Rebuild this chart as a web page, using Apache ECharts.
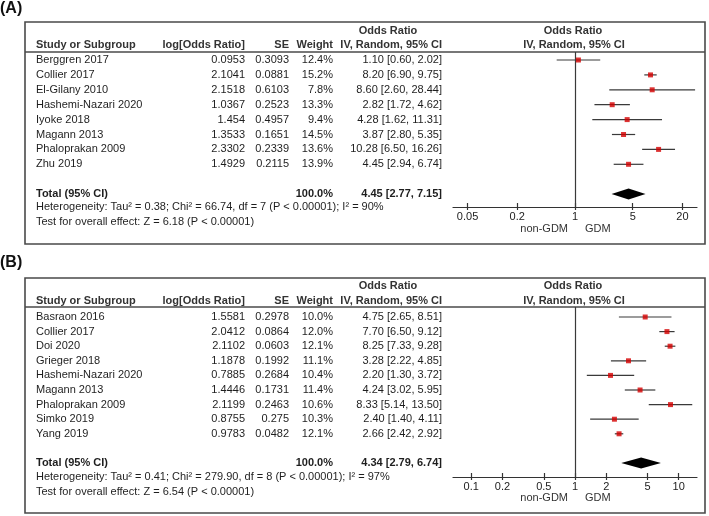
<!DOCTYPE html>
<html><head><meta charset="utf-8">
<script src="https://cdn.jsdelivr.net/npm/echarts@6/dist/echarts.min.js"></script>
<style>html,body{margin:0;padding:0;background:#fff}#c{width:709px;height:516px}</style>
</head><body><div id="c"></div>
<script>
// ---------- DATA : panel A ----------
const studiesA = ['Berggren 2017','Collier 2017','El-Gilany 2010','Hashemi-Nazari 2020','Iyoke 2018','Magann 2013','Phaloprakan 2009','Zhu 2019'];
const logOrA = ['0.0953','2.1041','2.1518','1.0367','1.454','1.3533','2.3302','1.4929'];
const seA = ['0.3093','0.0881','0.6103','0.2523','0.4957','0.1651','0.2339','0.2115'];
const weightA = [12.4,15.2,7.8,13.3,9.4,14.5,13.6,13.9];
const orA = [1.10,8.20,8.60,2.82,4.28,3.87,10.28,4.45];
const loA = [0.60,6.90,2.60,1.72,1.62,2.80,6.50,2.94];
const hiA = [2.02,9.75,28.44,4.62,11.31,5.35,16.26,6.74];
const totalA = [4.45,2.77,7.15];
const hetA = 'Heterogeneity: Tau\u00b2 = 0.38; Chi\u00b2 = 66.74, df = 7 (P < 0.00001); I\u00b2 = 90%';
const testA = 'Test for overall effect: Z = 6.18 (P < 0.00001)';
const ticksA = [0.05,0.2,1,5,20];
const ticksALabels = ['0.05','0.2','1','5','20'];

// ---------- DATA : panel B ----------
const studiesB = ['Basraon 2016','Collier 2017','Doi 2020','Grieger 2018','Hashemi-Nazari 2020','Magann 2013','Phaloprakan 2009','Simko 2019','Yang 2019'];
const logOrB = ['1.5581','2.0412','2.1102','1.1878','0.7885','1.4446','2.1199','0.8755','0.9783'];
const seB = ['0.2978','0.0864','0.0603','0.1992','0.2684','0.1731','0.2463','0.275','0.0482'];
const weightB = [10.0,12.0,12.1,11.1,10.4,11.4,10.6,10.3,12.1];
const orB = [4.75,7.70,8.25,3.28,2.20,4.24,8.33,2.40,2.66];
const loB = [2.65,6.50,7.33,2.22,1.30,3.02,5.14,1.40,2.42];
const hiB = [8.51,9.12,9.28,4.85,3.72,5.95,13.50,4.11,2.92];
const totalB = [4.34,2.79,6.74];
const hetB = 'Heterogeneity: Tau\u00b2 = 0.41; Chi\u00b2 = 279.90, df = 8 (P < 0.00001); I\u00b2 = 97%';
const testB = 'Test for overall effect: Z = 6.54 (P < 0.00001)';
const ticksB = [0.1,0.2,0.5,1,2,5,10];
const ticksBLabels = ['0.1','0.2','0.5','1','2','5','10'];

// ---------- LAYOUT ----------
const FONT = '"Liberation Sans", Arial, sans-serif';
const PLOT_L = 453, PLOT_R = 697;
const layA = {label:'(A)', labelY:9, boxTop:22, boxBottom:244, headLine:52, h1Y:31, h2Y:45, row0:60, step:14.9, totalIdx:9, hetY:207, testY:222, axisY:207, gdmY:229, xr:30};
const layB = {label:'(B)', labelY:263, boxTop:278, boxBottom:513, headLine:307, h1Y:286, h2Y:301, row0:317, step:14.6, totalIdx:10, hetY:477, testY:492, axisY:477, gdmY:498, xr:15};

const option = {animation:false, backgroundColor:'#fff', grid:[], xAxis:[], yAxis:[], series:[], graphic:{elements:[]}};
const G = option.graphic.elements;

function txt(s, x, y, align, bold, size, color){
  G.push({type:'text', silent:true, style:{text:s, x:x, y:y, align:align||'left', textAlign:align||'left', verticalAlign:'middle', textVerticalAlign:'middle', font:(bold?'bold ':'')+(size||11)+'px '+FONT, fill:color||'#1e1e1e'}});
}

function panel(idx, L, studies, logOr, se, weight, or, lo, hi, total, het, test, ticks, tickLabels){
  const rowY = i => L.row0 + i*L.step;
  // frame
  G.push({type:'rect', silent:true, shape:{x:25, y:L.boxTop, width:680, height:L.boxBottom-L.boxTop}, style:{fill:'none', stroke:'#4a4a4a', lineWidth:1.6}});
  G.push({type:'line', silent:true, shape:{x1:25, y1:L.headLine, x2:705, y2:L.headLine}, style:{stroke:'#4a4a4a', lineWidth:1.4}});
  txt(L.label, 0, L.labelY, 'left', true, 16, '#111');
  // header
  txt('Odds Ratio', 388, L.h1Y, 'center', true, 11, '#333');
  txt('Odds Ratio', 573, L.h1Y, 'center', true, 11, '#333');
  txt('Study or Subgroup', 36, L.h2Y, 'left', true, 11, '#333');
  txt('log[Odds Ratio]', 245, L.h2Y, 'right', true, 11, '#333');
  txt('SE', 289, L.h2Y, 'right', true, 11, '#333');
  txt('Weight', 333, L.h2Y, 'right', true, 11, '#333');
  txt('IV, Random, 95% CI', 442, L.h2Y, 'right', true, 11, '#333');
  txt('IV, Random, 95% CI', 574, L.h2Y, 'center', true, 11, '#333');
  // rows
  studies.forEach((s,i)=>{
    const y = rowY(i);
    txt(s, 36, y, 'left');
    txt(logOr[i], 245, y, 'right');
    txt(se[i], 289, y, 'right');
    txt(weight[i].toFixed(1)+'%', 333, y, 'right');
    txt(or[i].toFixed(2)+' ['+lo[i].toFixed(2)+', '+hi[i].toFixed(2)+']', 442, y, 'right');
  });
  const ty = rowY(L.totalIdx);
  txt('Total (95% CI)', 36, ty, 'left', true);
  txt('100.0%', 333, ty, 'right', true);
  txt(total[0].toFixed(2)+' ['+total[1].toFixed(2)+', '+total[2].toFixed(2)+']', 442, ty, 'right', true);
  txt(het, 36, L.hetY, 'left');
  txt(test, 36, L.testY, 'left');
  txt('non-GDM', 568, L.gdmY, 'right', false, 11, '#333');
  txt('GDM', 585, L.gdmY, 'left', false, 11, '#333');

  // plot grid
  const xm = Math.log10(L.xr);
  option.grid.push({left:PLOT_L, width:PLOT_R-PLOT_L, top:L.headLine, height:L.axisY-L.headLine, containLabel:false});
  const tv = ticks.map(t=>Math.log10(t));
  const fmt = v => { let k=0, b=1e9; tv.forEach((t,j)=>{const d=Math.abs(t-v); if(d<b){b=d;k=j;}}); return tickLabels[k]; };
  option.xAxis.push({type:'value', gridIndex:idx, position:'bottom', min:-xm, max:xm,
    axisLine:{show:true, onZero:false, lineStyle:{color:'#333', width:1.2}},
    axisTick:{show:true, length:3, customValues:tv, lineStyle:{color:'#333', width:1.2}},
    axisLabel:{show:true, margin:4, customValues:tv, formatter:fmt, color:'#222', fontSize:11, fontFamily:FONT},
    splitLine:{show:false}});
  option.xAxis.push({type:'value', gridIndex:idx, position:'bottom', min:-xm, max:xm,
    axisLine:{show:false, onZero:false},
    axisTick:{show:true, inside:true, length:4, customValues:tv, lineStyle:{color:'#333', width:1.2}},
    axisLabel:{show:false}, splitLine:{show:false}});
  option.yAxis.push({type:'value', gridIndex:idx, inverse:true,
    min:(L.headLine-L.row0)/L.step, max:(L.axisY-L.row0)/L.step, show:false});
  const xi = idx*2;
  // CI lines
  option.series.push({type:'custom', xAxisIndex:xi, yAxisIndex:idx, silent:true,
    data: studies.map((s,i)=>[Math.log10(lo[i]), Math.log10(hi[i]), i]),
    encode:{x:[0,1], y:2},
    renderItem:(params, api)=>{
      const a = api.coord([api.value(0), api.value(2)]);
      const b = api.coord([api.value(1), api.value(2)]);
      return {type:'line', shape:{x1:a[0], y1:a[1], x2:b[0], y2:b[1]}, style:{stroke:'#3a3a3a', lineWidth:1.2}};
    },
    z:3});
  // squares + reference line
  option.series.push({type:'scatter', xAxisIndex:xi, yAxisIndex:idx, silent:true,
    data: studies.map((s,i)=>[Math.log10(or[i]), i]),
    symbol:'rect', symbolSize:5, itemStyle:{color:'#d40000'}, z:4,
    markLine:{silent:true, symbol:['none','none'], label:{show:false}, lineStyle:{color:'#3a3a3a', width:1.2, type:'solid'}, data:[{xAxis:0}], z:2}});
  // diamond
  option.series.push({type:'custom', xAxisIndex:xi, yAxisIndex:idx, silent:true,
    data:[[Math.log10(total[1]), Math.log10(total[0]), Math.log10(total[2]), L.totalIdx]],
    encode:{x:[0,2], y:3},
    renderItem:(params, api)=>{
      const l = api.coord([api.value(0), api.value(3)]);
      const m = api.coord([api.value(1), api.value(3)]);
      const r = api.coord([api.value(2), api.value(3)]);
      return {type:'polygon', shape:{points:[[l[0],l[1]],[m[0],m[1]-5.5],[r[0],r[1]],[m[0],m[1]+5.5]]}, style:{fill:'#000'}};
    },
    z:4});
}

panel(0, layA, studiesA, logOrA, seA, weightA, orA, loA, hiA, totalA, hetA, testA, ticksA, ticksALabels);
panel(1, layB, studiesB, logOrB, seB, weightB, orB, loB, hiB, totalB, hetB, testB, ticksB, ticksBLabels);

const chart = echarts.init(document.getElementById('c'), null, {renderer:'canvas'});
chart.setOption(option);
</script>
</body></html>
